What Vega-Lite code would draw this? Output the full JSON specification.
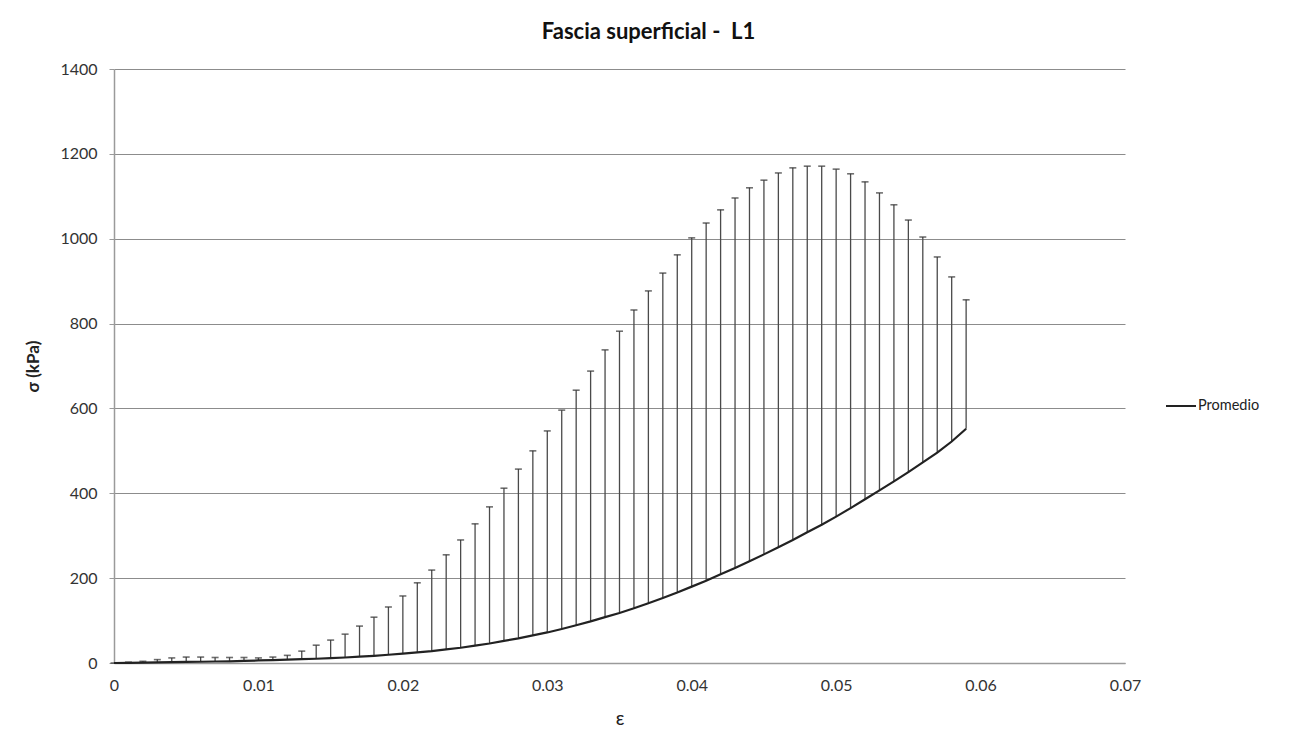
{
  "$schema": "https://vega.github.io/schema/vega-lite/v6.json",
  "autosize": {"type": "none"},
  "padding": {"left": 114, "top": 69, "right": 170, "bottom": 84},
  "width": 1011,
  "height": 594,
  "background": "white",
  "config": {
    "font": "Lato",
    "view": {"stroke": null},
    "axis": {"labelFont": "Lato", "titleFont": "Lato"}
  },
  "title": {
    "text": "Fascia superficial -\u00a0\u00a0L1",
    "font": "Lato",
    "fontSize": 22,
    "fontWeight": "bold",
    "color": "#111",
    "anchor": "middle",
    "dx": 29,
    "offset": 17
  },
  "data": {
    "values": [
      {"e": 0.000, "mean": 0, "upper": 0},
      {"e": 0.001, "mean": 0.5, "upper": 2},
      {"e": 0.002, "mean": 1, "upper": 4},
      {"e": 0.003, "mean": 1.5, "upper": 8},
      {"e": 0.004, "mean": 2, "upper": 12},
      {"e": 0.005, "mean": 2.5, "upper": 14},
      {"e": 0.006, "mean": 3, "upper": 14},
      {"e": 0.007, "mean": 3.5, "upper": 13},
      {"e": 0.008, "mean": 4, "upper": 13},
      {"e": 0.009, "mean": 5, "upper": 13},
      {"e": 0.010, "mean": 6, "upper": 12},
      {"e": 0.011, "mean": 7, "upper": 14},
      {"e": 0.012, "mean": 8, "upper": 18},
      {"e": 0.013, "mean": 9, "upper": 28},
      {"e": 0.014, "mean": 10, "upper": 42},
      {"e": 0.015, "mean": 11.5, "upper": 54},
      {"e": 0.016, "mean": 13, "upper": 68},
      {"e": 0.017, "mean": 15, "upper": 87},
      {"e": 0.018, "mean": 17, "upper": 108},
      {"e": 0.019, "mean": 19.5, "upper": 132},
      {"e": 0.020, "mean": 22, "upper": 158},
      {"e": 0.021, "mean": 25, "upper": 189},
      {"e": 0.022, "mean": 28, "upper": 219},
      {"e": 0.023, "mean": 32, "upper": 255},
      {"e": 0.024, "mean": 36, "upper": 290},
      {"e": 0.025, "mean": 41, "upper": 328},
      {"e": 0.026, "mean": 46, "upper": 368},
      {"e": 0.027, "mean": 52, "upper": 412},
      {"e": 0.028, "mean": 58, "upper": 457},
      {"e": 0.029, "mean": 65, "upper": 500},
      {"e": 0.030, "mean": 72, "upper": 547},
      {"e": 0.031, "mean": 80, "upper": 596},
      {"e": 0.032, "mean": 89, "upper": 643},
      {"e": 0.033, "mean": 98, "upper": 688},
      {"e": 0.034, "mean": 108, "upper": 738},
      {"e": 0.035, "mean": 118, "upper": 782},
      {"e": 0.036, "mean": 129, "upper": 832},
      {"e": 0.037, "mean": 141, "upper": 877},
      {"e": 0.038, "mean": 153, "upper": 919},
      {"e": 0.039, "mean": 166, "upper": 962},
      {"e": 0.040, "mean": 180, "upper": 1002},
      {"e": 0.041, "mean": 194, "upper": 1037},
      {"e": 0.042, "mean": 209, "upper": 1068},
      {"e": 0.043, "mean": 224, "upper": 1096},
      {"e": 0.044, "mean": 240, "upper": 1120},
      {"e": 0.045, "mean": 256, "upper": 1138},
      {"e": 0.046, "mean": 273, "upper": 1155},
      {"e": 0.047, "mean": 290, "upper": 1167},
      {"e": 0.048, "mean": 308, "upper": 1171},
      {"e": 0.049, "mean": 326, "upper": 1171},
      {"e": 0.050, "mean": 345, "upper": 1164},
      {"e": 0.051, "mean": 365, "upper": 1153},
      {"e": 0.052, "mean": 386, "upper": 1134},
      {"e": 0.053, "mean": 407, "upper": 1108},
      {"e": 0.054, "mean": 428, "upper": 1080},
      {"e": 0.055, "mean": 450, "upper": 1044},
      {"e": 0.056, "mean": 473, "upper": 1004},
      {"e": 0.057, "mean": 496, "upper": 957},
      {"e": 0.058, "mean": 522, "upper": 910},
      {"e": 0.059, "mean": 552, "upper": 856}
    ]
  },
  "encoding": {
    "x": {
      "field": "e",
      "type": "quantitative",
      "scale": {"domain": [0, 0.07], "nice": false, "zero": true},
      "axis": {
        "title": "ε",
        "titleFontSize": 19,
        "titleFontWeight": "normal",
        "titleColor": "#222",
        "titlePadding": 16,
        "values": [0, 0.01, 0.02, 0.03, 0.04, 0.05, 0.06, 0.07],
        "labelExpr": "datum.value == 0 ? '0' : format(datum.value, '.2f')",
        "labelFontSize": 16,
        "labelColor": "#333",
        "labelPadding": 14,
        "ticks": false,
        "grid": false,
        "domainColor": "#9a9a9a",
        "domainWidth": 1.5,
        "labelFlush": false
      }
    }
  },
  "layer": [
    {
      "mark": {"type": "rule", "color": "#4a4a4a", "strokeWidth": 1.3},
      "encoding": {
        "y": {
          "field": "mean",
          "type": "quantitative",
          "scale": {"domain": [0, 1400], "nice": false},
          "axis": {
            "title": "σ (kPa)",
            "titleFontSize": 17,
            "titleFontWeight": "bold",
            "titleColor": "#222",
            "titlePadding": 17,
            "values": [0, 200, 400, 600, 800, 1000, 1200, 1400],
            "format": "d",
            "labelFontSize": 16,
            "labelColor": "#333",
            "labelPadding": 12,
            "ticks": true,
            "tickSize": 5,
            "tickColor": "#9a9a9a",
            "grid": true,
            "gridColor": "#8c8c8c",
            "gridWidth": 1,
            "domainColor": "#9a9a9a",
            "domainWidth": 1.5
          }
        },
        "y2": {"field": "upper"}
      }
    },
    {
      "mark": {"type": "tick", "orient": "horizontal", "color": "#333", "size": 7, "thickness": 1.6},
      "encoding": {
        "y": {"field": "upper", "type": "quantitative"}
      }
    },
    {
      "mark": {"type": "line", "strokeWidth": 2.2},
      "encoding": {
        "y": {"field": "mean", "type": "quantitative"},
        "color": {
          "datum": "Promedio",
          "type": "nominal",
          "scale": {"range": ["#222222"]},
          "legend": {
            "title": null,
            "orient": "none",
            "legendX": 1051,
            "legendY": 321,
            "symbolType": "stroke",
            "symbolSize": 900,
            "symbolStrokeWidth": 2,
            "labelFontSize": 14.5,
            "labelColor": "#222",
            "labelFont": "Lato",
            "labelOffset": 1
          }
        }
      }
    }
  ]
}
